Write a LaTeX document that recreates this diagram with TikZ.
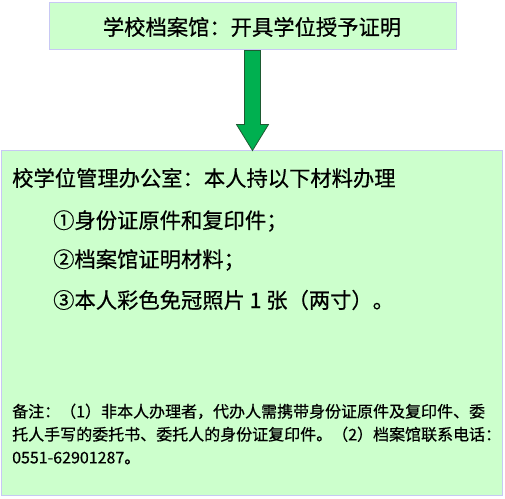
\documentclass[tikz,border=0pt]{standalone}
\usepackage{fontspec}
\setmainfont{Noto Sans CJK SC}[UprightFeatures={FakeBold=0.6}]
\usetikzlibrary{calc}
\definecolor{boxfill}{HTML}{CCFFCC}
\definecolor{boxline}{HTML}{C8C8F4}
\definecolor{arrowfill}{HTML}{00B050}
\definecolor{arrowline}{HTML}{1E5A32}

\tikzstyle{greenbox} = [rectangle, draw = boxline, fill = boxfill, line width = 1pt, inner sep = 0pt]
\tikzstyle{bigarrow} = [draw = arrowline, fill = arrowfill, line width = 0.8pt, line join = miter]
\tikzstyle{bodytext} = [anchor = west, inner sep = 0pt, font = \fontsize{21.3}{24}\selectfont]
\tikzstyle{notetext} = [anchor = west, inner sep = 0pt, align = left, font = \fontsize{16}{23}\selectfont]

\begin{document}
\begin{tikzpicture}[x = 1pt, y = 1pt]
			\useasboundingbox (0,0) rectangle (505,498);
			\node[greenbox, minimum width = 407pt, minimum height = 47pt] (school) at (252.5,471.5) {};
			\node[bodytext, anchor = center] (schooltext) at (252,471) {学校档案馆：开具学位授予证明};
			\node[greenbox, minimum width = 501pt, minimum height = 344pt] (office) at (251.5,175) {};
			\node[bodytext] (head) at (12,320) {校学位管理办公室：本人持以下材料办理};
			\node[bodytext] (item1) at (53,277) {①身份证原件和复印件；};
			\node[bodytext] (item2) at (53,238) {②档案馆证明材料；};
			\node[bodytext] (item3) at (53,198) {③本人彩色免冠照片 1 张（两寸）。};
			\node[notetext] (note) at (12,64) {备注：（1）非本人办理者，代办人需携带身份证原件及复印件、委\\托人手写的委托书、委托人的身份证复印件。（2）档案馆联系电话：\\0551-62901287。};
			\draw[bigarrow]
			($(school.south)+(-8,0)$) -- ($(school.south)+(8,0)$)
			-- ($(school.south |- office.north)+(8,26)$) -- ++(8,0)
			-- (school.south |- office.north) -- ++(-16,26) -- ++(8,0) -- cycle;
		\end{tikzpicture}
\end{document}
